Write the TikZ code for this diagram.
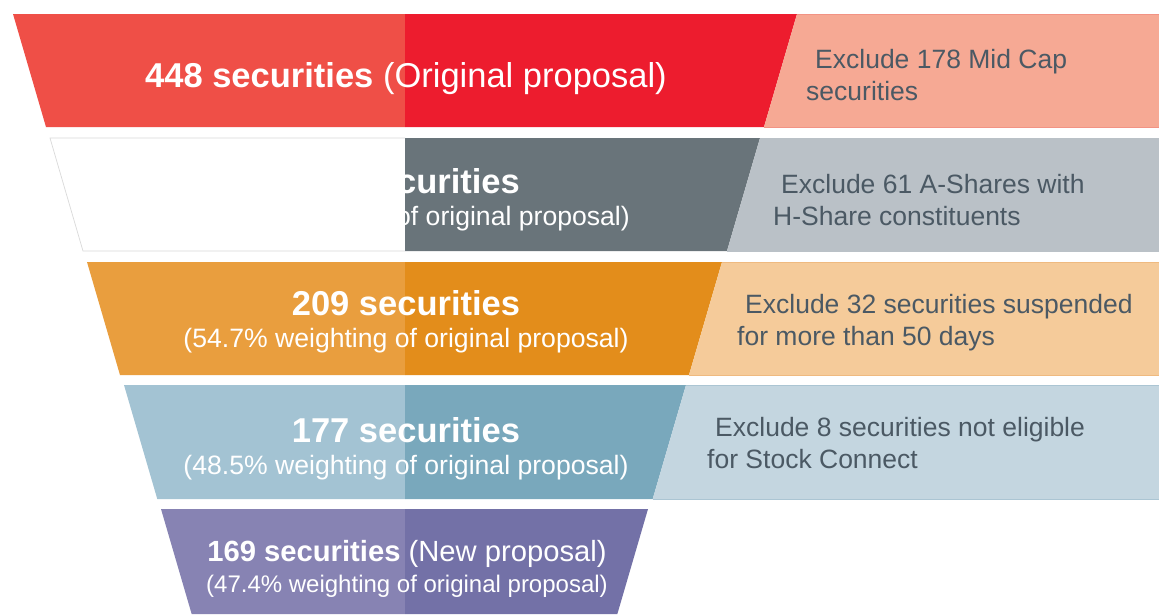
\documentclass[tikz,border=0pt]{standalone}
\usepackage{fontspec}
\setmainfont{Liberation Sans}
\definecolor{redL}{HTML}{EF4F47}
\definecolor{redD}{HTML}{ED1C2E}
\definecolor{redB}{HTML}{F6A994}
\definecolor{redE}{HTML}{F29384}
\definecolor{greyL}{HTML}{FFFFFF}
\definecolor{greyD}{HTML}{69747A}
\definecolor{greyB}{HTML}{BAC1C7}
\definecolor{greyE}{HTML}{BAC1C7}
\definecolor{orL}{HTML}{E99E3E}
\definecolor{orD}{HTML}{E38D1B}
\definecolor{orB}{HTML}{F5CB9A}
\definecolor{orE}{HTML}{EFBA80}
\definecolor{blL}{HTML}{A3C3D3}
\definecolor{blD}{HTML}{79A8BC}
\definecolor{blB}{HTML}{C4D6E0}
\definecolor{blE}{HTML}{ABC5D3}
\definecolor{puL}{HTML}{8783B3}
\definecolor{puD}{HTML}{7371A7}
\definecolor{txtgrey}{HTML}{4B5964}
\definecolor{outline}{HTML}{DADADA}
% #1 top, #2 height, #3 left x, #4 right x, #5 light, #6 dark
\newcommand\FunnelLeft[6]{%
  \fill[#5] (#3,#1) -- (405,#1) -- (405,{#1+#2}) -- ({#3+0.292*#2},{#1+#2}) -- cycle;
  \fill[#6] (405,#1) -- (#4,#1) -- ({#4-0.292*#2},{#1+#2}) -- (405,{#1+#2}) -- cycle;
}
% #1 top, #2 height, #3 right x of dark part, #4 box colour, #5 edge colour
\newcommand\FunnelBox[5]{%
  \fill[#4] (#3,#1) -- (1159,#1) -- (1159,{#1+#2}) -- ({#3-0.292*#2},{#1+#2}) -- cycle;
  \draw[#5, line width=0.7pt] (#3,#1) -- (1159,#1);
  \draw[#5, line width=0.7pt] ({#3-0.292*#2},{#1+#2}) -- (1159,{#1+#2});
}
\begin{document}
\begin{tikzpicture}[x=1pt,y=-1pt,
  bigtxt/.style={text=white, inner sep=0pt, anchor=base, font=\fontsize{34.5}{40}\selectfont},
  subtxt/.style={text=white, inner sep=0pt, anchor=base, font=\fontsize{26.6}{32}\selectfont},
  bigsmall/.style={text=white, inner sep=0pt, anchor=base, font=\fontsize{29.2}{34}\selectfont},
  subsmall/.style={text=white, inner sep=0pt, anchor=base, font=\fontsize{24}{29}\selectfont},
  boxtxt/.style={text=txtgrey, inner sep=0pt, anchor=base west, font=\fontsize{26.5}{32}\selectfont}]
\useasboundingbox (0,0) rectangle (1159,614);
\fill[white] (0,0) rectangle (1159,614);

% row 1
\FunnelLeft{14}{113}{13}{797}{redL}{redD}
\FunnelBox{14}{113}{797}{redB}{redE}
% row 2
\FunnelLeft{138}{113}{50}{760}{greyL}{greyD}
\draw[outline, line width=0.7pt] (405,138) -- (50,138) -- (83,251) -- (405,251);
\FunnelBox{138}{113}{760}{greyB}{greyE}
% row 3
\FunnelLeft{262}{113}{87}{722}{orL}{orD}
\FunnelBox{262}{113}{722}{orB}{orE}
% row 4
\FunnelLeft{385}{114}{124}{686}{blL}{blD}
\FunnelBox{385}{114}{686}{blB}{blE}
% row 5
\FunnelLeft{509}{105}{161}{648}{puL}{puD}

% left texts
\node[bigtxt] (t1) at (406,87) {\textbf{448 securities} (Original proposal)};
\node[bigtxt, anchor=base east] (t2a) at (520,193) {\textbf{securities}};
\node[subtxt, anchor=base east] (t2b) at (630,225) {of original proposal)};
\node[bigtxt] (t3a) at (406,315) {\textbf{209 securities}};
\node[subtxt] (t3b) at (406,347) {(54.7\% weighting of original proposal)};
\node[bigtxt] (t4a) at (406,442) {\textbf{177 securities}};
\node[subtxt] (t4b) at (406,474) {(48.5\% weighting of original proposal)};
\node[bigsmall] (t5a) at (407,561) {\textbf{169 securities} (New proposal)};
\node[subsmall] (t5b) at (407,592) {(47.4\% weighting of original proposal)};

% right texts
\node[boxtxt] (b1a) at (815,68) {Exclude 178 Mid Cap};
\node[boxtxt] (b1b) at (806,100) {securities};
\node[boxtxt] (b2a) at (781,193) {Exclude 61 A-Shares with};
\node[boxtxt] (b2b) at (773,225) {H-Share constituents};
\node[boxtxt] (b3a) at (745,313) {Exclude 32 securities suspended};
\node[boxtxt] (b3b) at (737,345) {for more than 50 days};
\node[boxtxt] (b4a) at (715,436) {Exclude 8 securities not eligible};
\node[boxtxt] (b4b) at (707,468) {for Stock Connect};
\end{tikzpicture}
\end{document}
